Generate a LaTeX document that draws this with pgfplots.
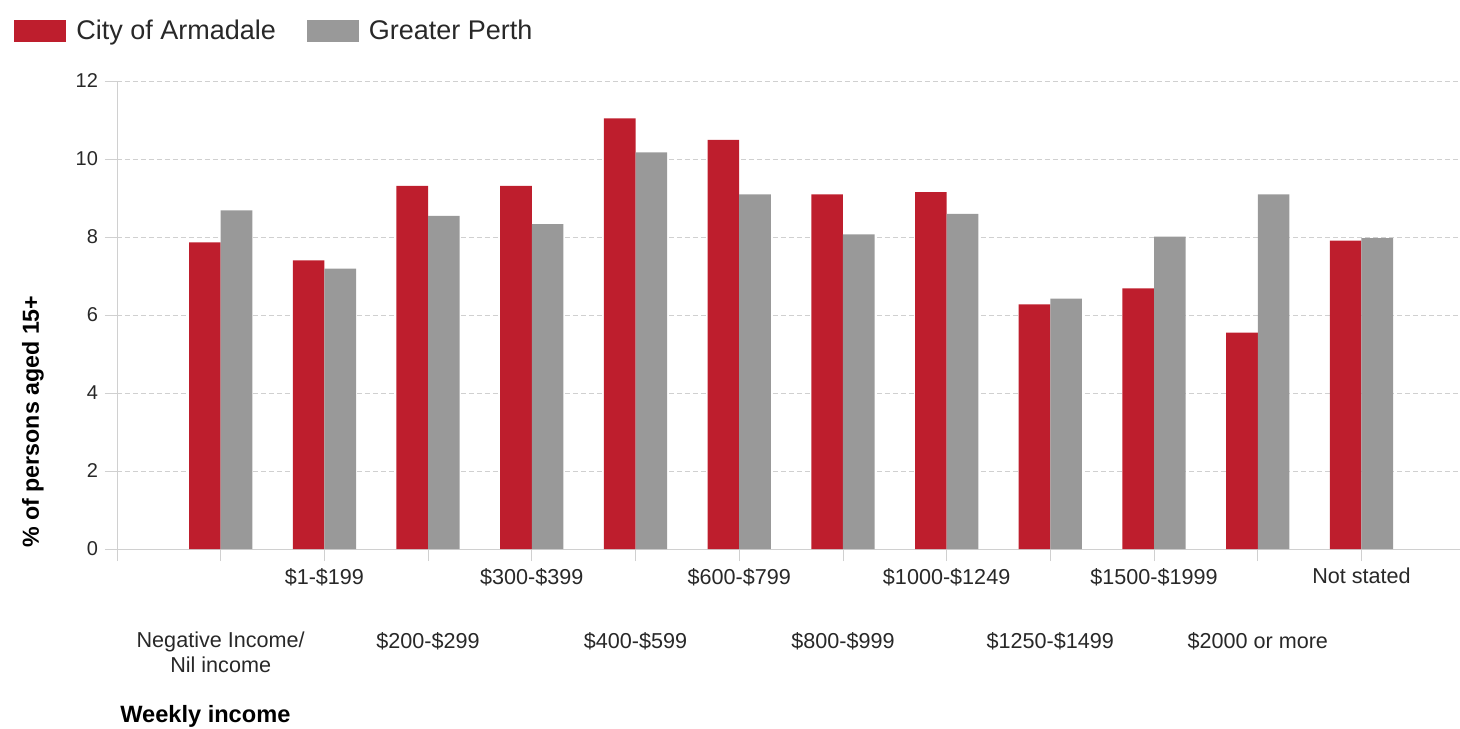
\documentclass[border=0pt]{standalone}
\usepackage{fontspec}
\setmainfont{Liberation Sans}
\usepackage{pgfplots}
\pgfplotsset{compat=1.18}
\definecolor{armred}{RGB}{190,30,45}
\definecolor{perthgray}{RGB}{153,153,153}
\definecolor{gridgray}{RGB}{208,208,208}
\definecolor{txt}{RGB}{40,40,40}
\pgfplotsset{boxlegend/.style={legend image code/.code={\fill[##1] (0pt,-5.5pt) rectangle (26pt,5.5pt);}}}
\begin{document}
\begin{tikzpicture}
\begin{axis}[
  scale only axis, width=671.5pt, height=234pt,
  xmin=-1, xmax=11.95, ymin=0, ymax=12,
  ybar, bar width=0.305,
  axis x line=bottom, axis y line=left,
  axis line style={-, draw=gridgray},
  ytick={0,2,...,12},
  ymajorgrids, grid style={gridgray, dash pattern=on 2.7pt off 1.3pt},
  tick align=outside, major tick length=6pt,
  tick style={gridgray, thin},
  xtick={1,3,5,7,9,11},
  xticklabels={\$1-\$199, \$300-\$399, \$600-\$799, \$1000-\$1249, \$1500-\$1999, Not stated},
  extra x ticks={-1,0,2,4,6,8,10},
  extra x tick labels={,{Negative Income/\\Nil income},\$200-\$299,\$400-\$599,\$800-\$999,\$1250-\$1499,\$2000 or more},
  extra x tick style={xticklabel style={yshift=-32pt}},
  xticklabel style={font=\fontsize{10.8}{12.5}\selectfont, text=txt, align=center},
  yticklabel style={font=\fontsize{10}{12}\selectfont, text=txt},
  /pgf/number format/assume math mode=true,
  clip=false,
  legend style={at={(rel axis cs:-0.0767,1.1068)}, anchor=west, draw=none, fill=none,
    inner sep=0pt, legend columns=-1, font=\fontsize{13.5}{16}\selectfont, text=txt,
    /tikz/every odd column/.append style={column sep=3pt},
    /tikz/every even column/.append style={column sep=13.5pt}},
]
\addplot[fill=armred, draw=none, bar shift=-0.1525, boxlegend] coordinates {
  (0,7.86) (1,7.40) (2,9.31) (3,9.31) (4,11.04) (5,10.49)
  (6,9.09) (7,9.15) (8,6.27) (9,6.68) (10,5.55) (11,7.91)};
\addplot[fill=perthgray, draw=none, bar shift=0.1525, boxlegend] coordinates {
  (0,8.68) (1,7.19) (2,8.54) (3,8.33) (4,10.17) (5,9.09)
  (6,8.07) (7,8.59) (8,6.42) (9,8.01) (10,9.09) (11,7.97)};
\legend{City of Armadale, Greater Perth}
\node[rotate=90, anchor=west, inner sep=0pt, text=black, font=\bfseries\fontsize{11.6}{13}\selectfont]
  at (rel axis cs:-0.0625,0.002) {\% of persons aged 15+};
\node[anchor=west, inner sep=0pt, text=black, font=\bfseries\fontsize{11.8}{13}\selectfont]
  at (rel axis cs:0.0022,-0.3568) {Weekly income};
\coordinate (bbSW) at (rel axis cs:-0.0871,-0.3825);
\coordinate (bbNE) at (rel axis cs:1.0,1.1731);
\end{axis}
\pgfresetboundingbox
\path[use as bounding box] (bbSW) rectangle (bbNE);
\end{tikzpicture}
\end{document}
